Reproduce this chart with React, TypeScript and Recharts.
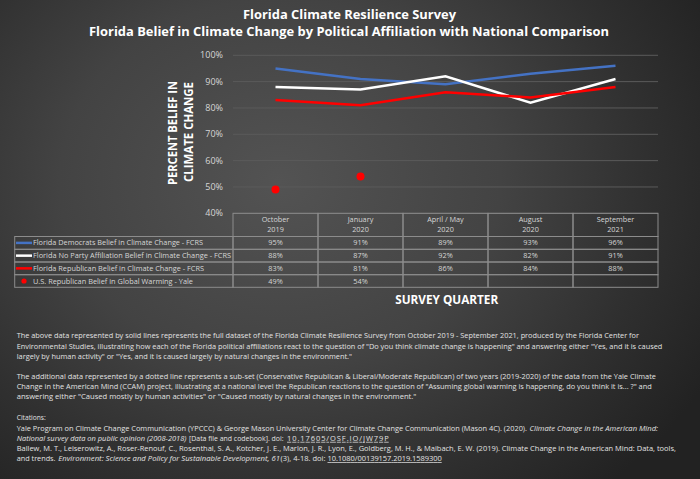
import React from 'react';
import { LineChart, Line, XAxis, YAxis, CartesianGrid } from 'recharts';

const months = ['October', 'January', 'April / May', 'August', 'September'];
const years = ['2019', '2020', '2020', '2020', '2021'];
const democrats = [95, 91, 89, 93, 96];
const noParty = [88, 87, 92, 82, 91];
const republicans = [83, 81, 86, 84, 88];
const usRepublicans: (number | null)[] = [49, 54, null, null, null];
const yTicks = [40, 50, 60, 70, 80, 90, 100];
const seriesNames = [
  'Florida Democrats Belief in Climate Change - FCRS',
  'Florida No Party Affiliation Belief in Climate Change - FCRS',
  'Florida Republican Belief in Climate Change - FCRS',
  'U.S. Republican Belief in Global Warming - Yale',
];
const titleLines = [
  'Florida Climate Resilience Survey',
  'Florida Belief in Climate Change by Political Affiliation with National Comparison',
];
const yTitleLines = ['PERCENT BELIEF IN', 'CLIMATE CHANGE'];
const xTitle = 'SURVEY QUARTER';

type Seg = { t: string; x0: number; x1: number; i?: boolean; u?: boolean };
const noteLines: Seg[][] = [
  [{ t: 'The above data represented by solid lines represents the full dataset of the Florida Climate Resilience Survey from October 2019 - September 2021, produced by the Florida Center for', x0: 16.7, x1: 639 }],
  [{ t: 'Environmental Studies, illustrating how each of the Florida political affiliations react to the question of "Do you think climate change is happening" and answering either "Yes, and it is caused', x0: 16.7, x1: 662.3 }],
  [{ t: 'largely by human activity" or "Yes, and it is caused largely by natural changes in the environment."', x0: 16.7, x1: 352 }],
  [{ t: 'The additional data represented by a dotted line represents a sub-set (Conservative Republican & Liberal/Moderate Republican) of two years (2019-2020) of the data from the Yale Climate', x0: 16.7, x1: 656 }],
  [{ t: 'Change in the American Mind (CCAM) project, illustrating at a national level the Republican reactions to the question of "Assuming global warming is happening, do you think it is... ?" and', x0: 16.7, x1: 651.7 }],
  [{ t: 'answering either "Caused mostly by human activities" or "Caused mostly by natural changes in the environment."', x0: 16.7, x1: 416.3 }],
  [{ t: 'Citations:', x0: 16.7, x1: 45.7 }],
  [
    { t: 'Yale Program on Climate Change Communication (YPCCC) & George Mason University Center for Climate Change Communication (Mason 4C). (2020).', x0: 16.7, x1: 527 },
    { t: 'Climate Change in the American Mind:', x0: 529.5, x1: 658, i: true },
  ],
  [
    { t: 'National survey data on public opinion (2008-2018)', x0: 16.7, x1: 186.5, i: true },
    { t: '[Data file and codebook]. doi:', x0: 189, x1: 283.5 },
    { t: '10.17605/OSF.IO/JW79P', x0: 287, x1: 388.7, u: true },
  ],
  [{ t: 'Ballew, M. T., Leiserowitz, A., Roser-Renouf, C., Rosenthal, S. A., Kotcher, J. E., Marlon, J. R., Lyon, E., Goldberg, M. H., & Maibach, E. W. (2019). Climate Change in the American Mind: Data, tools,', x0: 16.7, x1: 676 }],
  [
    { t: 'and trends.', x0: 16.7, x1: 55.5 },
    { t: 'Environment: Science and Policy for Sustainable Development, 61', x0: 58.3, x1: 280, i: true },
    { t: '(3), 4-18. doi:', x0: 280.5, x1: 325.5 },
    { t: '10.1080/00139157.2019.1589300', x0: 327.5, x1: 441.7, u: true },
  ],
];
const noteBaselines = [338.4, 348.5, 358.6, 378.8, 388.9, 399.1, 420.4, 430.6, 440.8, 451.0, 461.2];

const data = months.map((m, i) => ({
  quarter: `${m} ${years[i]}`,
  dem: democrats[i],
  npa: noParty[i],
  rep: republicans[i],
  us: usRepublicans[i],
}));

const FONT = "'Open Sans', 'DejaVu Sans', sans-serif";
const W = 700;
const H = 479;
const PLOT_L = 233;
const PLOT_R = 658;
const PLOT_T = 55.3;
const PLOT_B = 213.3;
const Y_AXIS_W = 60;
const X_AXIS_H = 80;
const COL_W = (PLOT_R - PLOT_L) / months.length;
const ROW_Y = [236.5, 249.3, 262, 274.7, 287.3];
const LEGEND_L = 14.7;
const BORDER = '#8c8c8c';
const TEXT_GRAY = '#d6d6d6';
const BLUE = '#4472C4';
const RED = '#FF0000';
const WHITE = '#FFFFFF';
const seriesColors = [BLUE, WHITE, RED, RED];
const legendTextLen = [170, 198, 171, 160];
const rowsVals = [democrats, noParty, republicans, usRepublicans];

const TableTick = (props: any) => {
  const { x, payload } = props;
  let index = props.index;
  if (index == null) index = data.findIndex((d) => d.quarter === payload?.value);
  const left = x - COL_W / 2;
  return (
    <g>
      <rect x={left} y={PLOT_B} width={COL_W} height={ROW_Y[0] - PLOT_B} fill="none" stroke={BORDER} strokeWidth={1} />
      <text x={x} y={222.4} textAnchor="middle" fill={TEXT_GRAY} fontSize={7.3} fontFamily={FONT}>
        {months[index]}
      </text>
      <text x={x} y={232.4} textAnchor="middle" fill={TEXT_GRAY} fontSize={7.3} fontFamily={FONT}>
        {years[index]}
      </text>
      {rowsVals.map((arr, r) => (
        <g key={r}>
          <rect x={left} y={ROW_Y[r]} width={COL_W} height={ROW_Y[r + 1] - ROW_Y[r]} fill="none" stroke={BORDER} strokeWidth={1} />
          {arr[index] != null && (
            <text x={x} y={(ROW_Y[r] + ROW_Y[r + 1]) / 2 + 2.5} textAnchor="middle" fill={TEXT_GRAY} fontSize={7.3} fontFamily={FONT}>
              {`${arr[index]}%`}
            </text>
          )}
        </g>
      ))}
    </g>
  );
};

export default function App() {
  return (
    <div
      style={{
        position: 'absolute',
        left: 0,
        top: 0,
        width: W,
        height: H,
        overflow: 'hidden',
        background:
          'radial-gradient(ellipse 70% 85% at 40% 38%, #535353 0%, #434343 45%, #303030 75%, #222222 100%)',
      }}
    >
      <div style={{ position: 'absolute', left: 0, top: 0 }}>
        <LineChart
          width={W}
          height={H}
          data={data}
          margin={{ top: PLOT_T, left: PLOT_L - Y_AXIS_W, right: W - PLOT_R, bottom: H - PLOT_B - X_AXIS_H }}
        >
          <CartesianGrid horizontal vertical={false} stroke="#5b5b5b" strokeWidth={1} />
          <XAxis
            dataKey="quarter"
            interval={0}
            height={X_AXIS_H}
            axisLine={false}
            tickLine={false}
            tickSize={0}
            tickMargin={0}
            padding={{ left: COL_W / 2, right: COL_W / 2 }}
            tick={TableTick}
          />
          <YAxis
            width={Y_AXIS_W}
            domain={[40, 100]}
            ticks={yTicks}
            axisLine={false}
            tickLine={false}
            tickSize={0}
            tickMargin={10}
            tickFormatter={(v: number) => `${v}%`}
            tick={{ fill: TEXT_GRAY, fontSize: 9, fontFamily: FONT }}
          />
          <Line dataKey="dem" stroke={BLUE} strokeWidth={2.5} dot={false} isAnimationActive={false} />
          <Line dataKey="npa" stroke={WHITE} strokeWidth={2.5} dot={false} isAnimationActive={false} />
          <Line dataKey="rep" stroke={RED} strokeWidth={2.5} dot={false} isAnimationActive={false} />
          <Line
            dataKey="us"
            stroke="none"
            strokeWidth={0}
            dot={{ r: 4, fill: RED, stroke: RED, strokeWidth: 0 }}
            isAnimationActive={false}
          />
        </LineChart>
      </div>
      <svg width={W} height={H} style={{ position: 'absolute', left: 0, top: 0, pointerEvents: 'none' }}>
        <text x={349.5} y={19} textAnchor="middle" fill="#ffffff" fontWeight={700} fontSize={11.6} fontFamily={FONT} textLength={213} lengthAdjust="spacingAndGlyphs">
          {titleLines[0]}
        </text>
        <text x={349} y={36} textAnchor="middle" fill="#ffffff" fontWeight={700} fontSize={11.6} fontFamily={FONT} textLength={520} lengthAdjust="spacingAndGlyphs">
          {titleLines[1]}
        </text>
        <text transform="translate(176.7,133) rotate(-90)" textAnchor="middle" fill="#ffffff" fontWeight={700} fontSize={11.6} fontFamily={FONT} textLength={104} lengthAdjust="spacingAndGlyphs">
          {yTitleLines[0]}
        </text>
        <text transform="translate(193.3,132) rotate(-90)" textAnchor="middle" fill="#ffffff" fontWeight={700} fontSize={11.6} fontFamily={FONT} textLength={100} lengthAdjust="spacingAndGlyphs">
          {yTitleLines[1]}
        </text>
        <text x={446.7} y={304} textAnchor="middle" fill="#ffffff" fontWeight={700} fontSize={12.6} fontFamily={FONT} textLength={103} lengthAdjust="spacingAndGlyphs">
          {xTitle}
        </text>
        {seriesNames.map((name, r) => {
          const mid = (ROW_Y[r] + ROW_Y[r + 1]) / 2;
          return (
            <g key={name}>
              <rect x={LEGEND_L} y={ROW_Y[r]} width={PLOT_L - LEGEND_L} height={ROW_Y[r + 1] - ROW_Y[r]} fill="none" stroke={BORDER} strokeWidth={1} />
              {r < 3 ? (
                <line x1={16} x2={32} y1={mid} y2={mid} stroke={seriesColors[r]} strokeWidth={2.5} />
              ) : (
                <circle cx={24} cy={mid} r={2.6} fill={seriesColors[r]} />
              )}
              <text x={33} y={mid + 2.5} fill={TEXT_GRAY} fontSize={7.3} fontFamily={FONT} textLength={legendTextLen[r]} lengthAdjust="spacingAndGlyphs">
                {name}
              </text>
            </g>
          );
        })}
        {noteLines.map((segs, li) =>
          segs.map((s, si) => (
            <text
              key={`${li}-${si}`}
              x={s.x0}
              y={noteBaselines[li]}
              fill="#e2e2e2"
              fontSize={7.5}
              fontFamily={FONT}
              fontStyle={s.i ? 'italic' : 'normal'}
              textDecoration={s.u ? 'underline' : undefined}
              textLength={s.x1 - s.x0}
              lengthAdjust={s.u ? 'spacing' : 'spacingAndGlyphs'}
            >
              {s.t}
            </text>
          ))
        )}
      </svg>
    </div>
  );
}
